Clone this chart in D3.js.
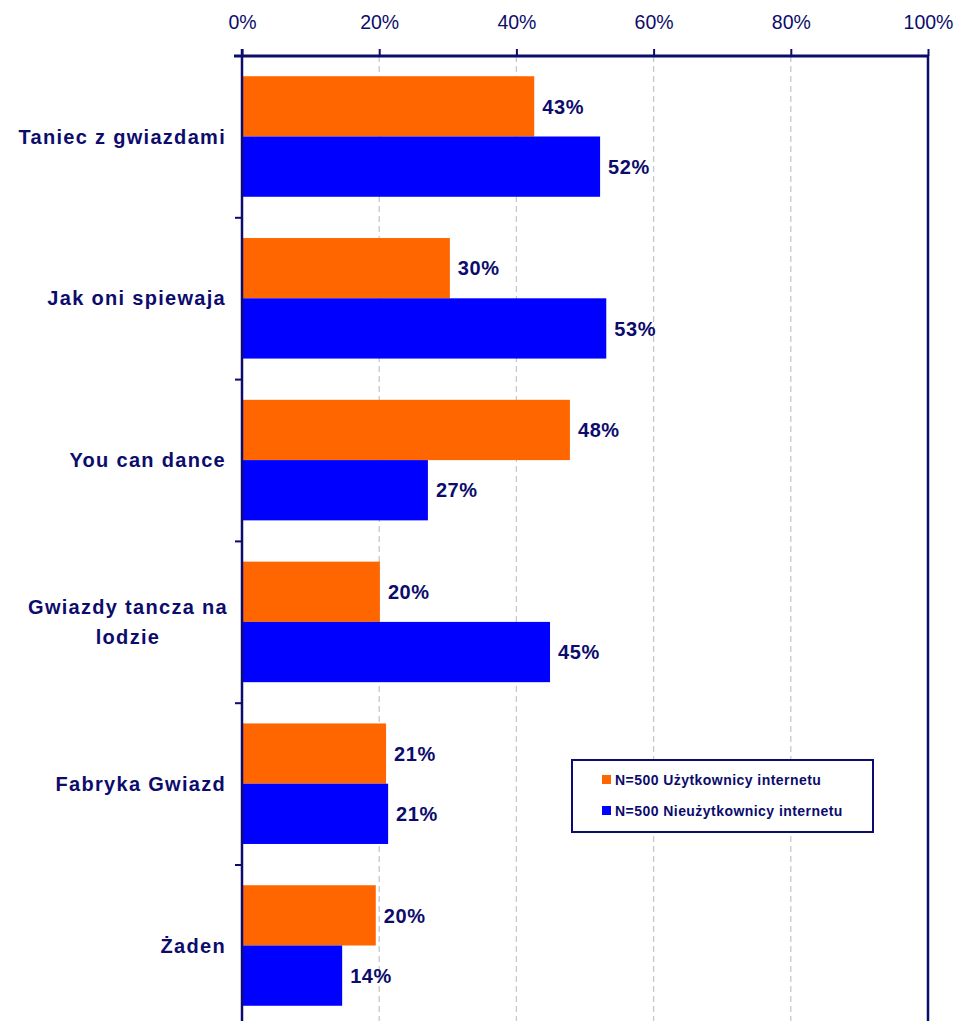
<!DOCTYPE html>
<html>
<head>
<meta charset="utf-8">
<script src="https://cdn.jsdelivr.net/npm/d3@7/dist/d3.min.js"></script>
<style>
  html, body { margin: 0; padding: 0; background: #fff; }
  svg { display: block; }
</style>
</head>
<body>
<svg id="chart" width="958" height="1021"></svg>
<script>
const categories = [
  ["Taniec z gwiazdami"],
  ["Jak oni spiewaja"],
  ["You can dance"],
  ["Gwiazdy tancza na", "lodzie"],
  ["Fabryka Gwiazd"],
  ["Żaden"]
];
const seriesNames = ["N=500 Użytkownicy internetu", "N=500 Nieużytkownicy internetu"];
const usersValues = [0.426, 0.303, 0.478, 0.201, 0.210, 0.195];
const nonUsersValues = [0.522, 0.531, 0.271, 0.449, 0.213, 0.146];
const usersLabels = ["43%", "30%", "48%", "20%", "21%", "20%"];
const nonUsersLabels = ["52%", "53%", "27%", "45%", "21%", "14%"];
const xTicks = [0, 0.2, 0.4, 0.6, 0.8, 1.0];
const colors = ["#FF6600", "#0000FF"];

const navy = "#0c0c6c";
const svg = d3.select("#chart");
const pLeft = 242, pRight = 928, pTop = 56, pBottom = 1026;

const x = d3.scaleLinear().domain([0, 1]).range([pLeft, pRight]);
const y = d3.scaleBand().domain(d3.range(categories.length)).range([pTop, pBottom])
  .paddingInner(0.255).paddingOuter(0.125);
const ySub = d3.scaleBand().domain([0, 1]).range([0, y.bandwidth()]);

// gridlines
svg.append("g").selectAll("line").data(xTicks.filter(t => t > 0 && t < 1)).join("line")
  .attr("x1", d => x(d)).attr("x2", d => x(d))
  .attr("y1", pTop).attr("y2", 1021)
  .attr("stroke", "#c8c8c8").attr("stroke-width", 1.3).attr("stroke-dasharray", "6,4");

// bars
const series = [usersValues, nonUsersValues];
const labels = [usersLabels, nonUsersLabels];
series.forEach((vals, si) => {
  svg.append("g").selectAll("rect").data(vals).join("rect")
    .attr("x", x(0))
    .attr("y", (d, i) => y(i) + ySub(si))
    .attr("width", d => x(d) - x(0))
    .attr("height", ySub.bandwidth())
    .attr("fill", colors[si]);
  svg.append("g").selectAll("text").data(vals).join("text")
    .attr("x", d => x(d) + 8)
    .attr("y", (d, i) => y(i) + ySub(si) + ySub.bandwidth() / 2)
    .attr("dy", "0.36em")
    .attr("font-family", "Liberation Sans, Arial, sans-serif")
    .attr("font-weight", "bold")
    .attr("font-size", 20)
    .attr("letter-spacing", 0.6)
    .attr("fill", navy)
    .text((d, i) => labels[si][i]);
});

// top axis
const xAxis = d3.axisTop(x).tickValues(xTicks).tickFormat(d3.format(".0%")).tickSize(7).tickSizeOuter(0);
const gx = svg.append("g").attr("transform", `translate(0,${pTop})`).call(xAxis);
gx.select(".domain").attr("stroke", navy).attr("stroke-width", 3).attr("d", `M${pLeft - 8},0H${pRight}`);
gx.selectAll(".tick line").attr("stroke", navy).attr("stroke-width", 2);
gx.selectAll(".tick text")
  .attr("y", -27)
  .attr("font-family", "Liberation Sans, Arial, sans-serif")
  .attr("font-size", 19.5)
  .attr("fill", navy);

// right border
svg.append("line").attr("x1", pRight).attr("x2", pRight).attr("y1", pTop - 1).attr("y2", 1021)
  .attr("stroke", navy).attr("stroke-width", 2.5);

// left axis
const yAxisScale = d3.scaleLinear().domain([0, categories.length]).range([pTop, pTop + y.step() * categories.length]);
svg.append("line").attr("x1", pLeft).attr("x2", pLeft).attr("y1", pTop - 7).attr("y2", 1021)
  .attr("stroke", navy).attr("stroke-width", 2.5);
svg.append("g").selectAll("line").data(d3.range(1, categories.length)).join("line")
  .attr("x1", pLeft - 7).attr("x2", pLeft)
  .attr("y1", d => yAxisScale(d)).attr("y2", d => yAxisScale(d))
  .attr("stroke", navy).attr("stroke-width", 2);

// category labels
const catG = svg.append("g");
categories.forEach((lines, i) => {
  const cy = y(i) + y.bandwidth() / 2;
  const lh = 30;
  const t = catG.append("text")
    .attr("font-family", "Liberation Sans, Arial, sans-serif")
    .attr("font-weight", "bold")
    .attr("font-size", 20)
    .attr("letter-spacing", 1.3)
    .attr("fill", navy);
  if (lines.length === 1) {
    t.attr("text-anchor", "end").attr("x", 226).attr("y", cy).attr("dy", "0.36em").text(lines[0]);
  } else {
    lines.forEach((ln, k) => {
      t.append("tspan").attr("text-anchor", "middle").attr("x", 128)
        .attr("y", cy + (k - (lines.length - 1) / 2) * lh).attr("dy", "0.36em").text(ln);
    });
  }
});

// legend
const lg = svg.append("g").attr("transform", "translate(572,760)");
lg.append("rect").attr("width", 301).attr("height", 72).attr("fill", "#fff")
  .attr("stroke", navy).attr("stroke-width", 2);
seriesNames.forEach((name, i) => {
  const yy = 20 + i * 31;
  lg.append("rect").attr("x", 30).attr("y", yy - 5).attr("width", 9).attr("height", 9).attr("fill", colors[i]);
  lg.append("text").attr("x", 43).attr("y", yy).attr("dy", "0.36em")
    .attr("font-family", "Liberation Sans, Arial, sans-serif")
    .attr("font-weight", "bold").attr("font-size", 14)
    .attr("letter-spacing", 0.45)
    .attr("fill", navy).text(name);
});
</script>
</body>
</html>
